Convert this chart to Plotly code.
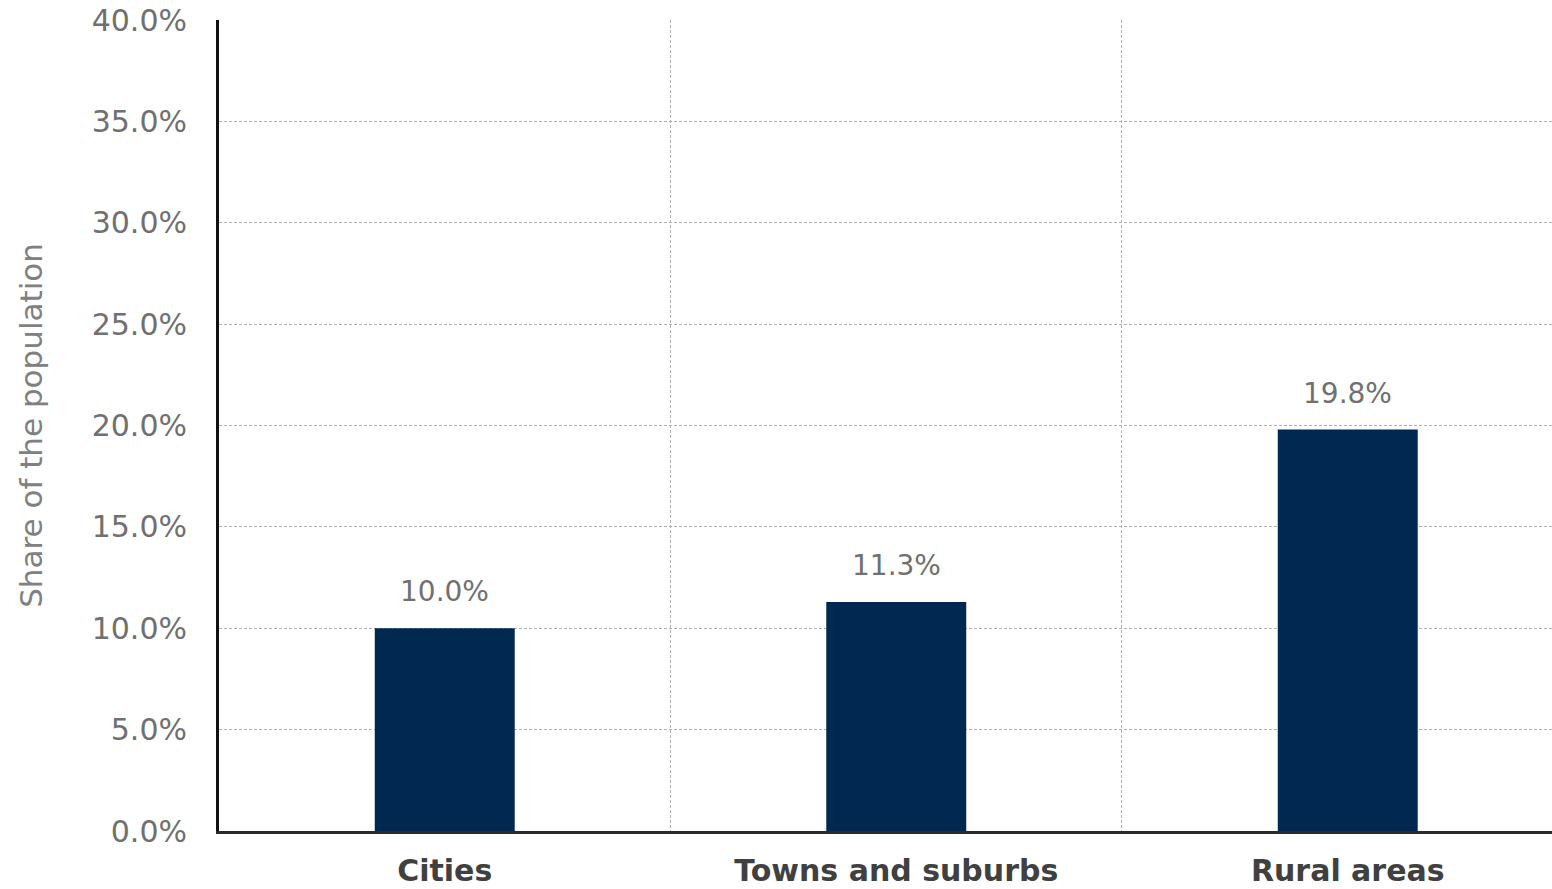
import plotly.graph_objects as go

categories = ["Cities", "Towns and suburbs", "Rural areas"]
values = [10.0, 11.3, 19.8]
y_ticks = [0, 5, 10, 15, 20, 25, 30, 35, 40]

fig = go.Figure(go.Bar(
    x=categories, y=values,
    marker=dict(color="#002850", line=dict(width=0)),
    width=0.31,
))

for c, v in zip(categories, values):
    fig.add_annotation(
        x=c, y=v, text=f"{v:.1f}%", showarrow=False,
        yanchor="bottom", yshift=18,
        font=dict(family="DejaVu Sans", size=28, color="#707070"),
    )

fig.update_layout(
    width=1552, height=889,
    margin=dict(l=219, r=0, t=20, b=58),
    paper_bgcolor="white", plot_bgcolor="white",
    showlegend=False,
    font=dict(family="DejaVu Sans", color="#707070"),
)
fig.update_xaxes(
    type="category",
    automargin=False,
    range=[-0.5, 2.4524],
    tickson="boundaries",
    showgrid=True, gridcolor="#b0b0b0", gridwidth=1, griddash="3px,2px",
    showline=True, linecolor="#2a2a2a", linewidth=3,
    ticks="", ticklabelstandoff=11,
    tickfont=dict(family="DejaVu Sans", size=30, color="#404040", weight="bold"),
)
fig.update_yaxes(
    automargin=False,
    range=[0, 40],
    tickvals=y_ticks,
    ticktext=[f"{v:.1f}%" for v in y_ticks],
    showgrid=True, gridcolor="#b0b0b0", gridwidth=1, griddash="3px,2px",
    showline=True, linecolor="#111111", linewidth=3,
    zeroline=False,
    ticks="", ticklabelstandoff=23, ticklabeloverflow="allow",
    tickfont=dict(family="DejaVu Sans", size=30, color="#707070"),
    title=dict(text="Share of the population", standoff=40,
               font=dict(family="DejaVu Sans", size=31, color="#808080")),
)

fig.write_html("out.html", config={"displayModeBar": False},
               post_script="document.body.style.margin='0';")
